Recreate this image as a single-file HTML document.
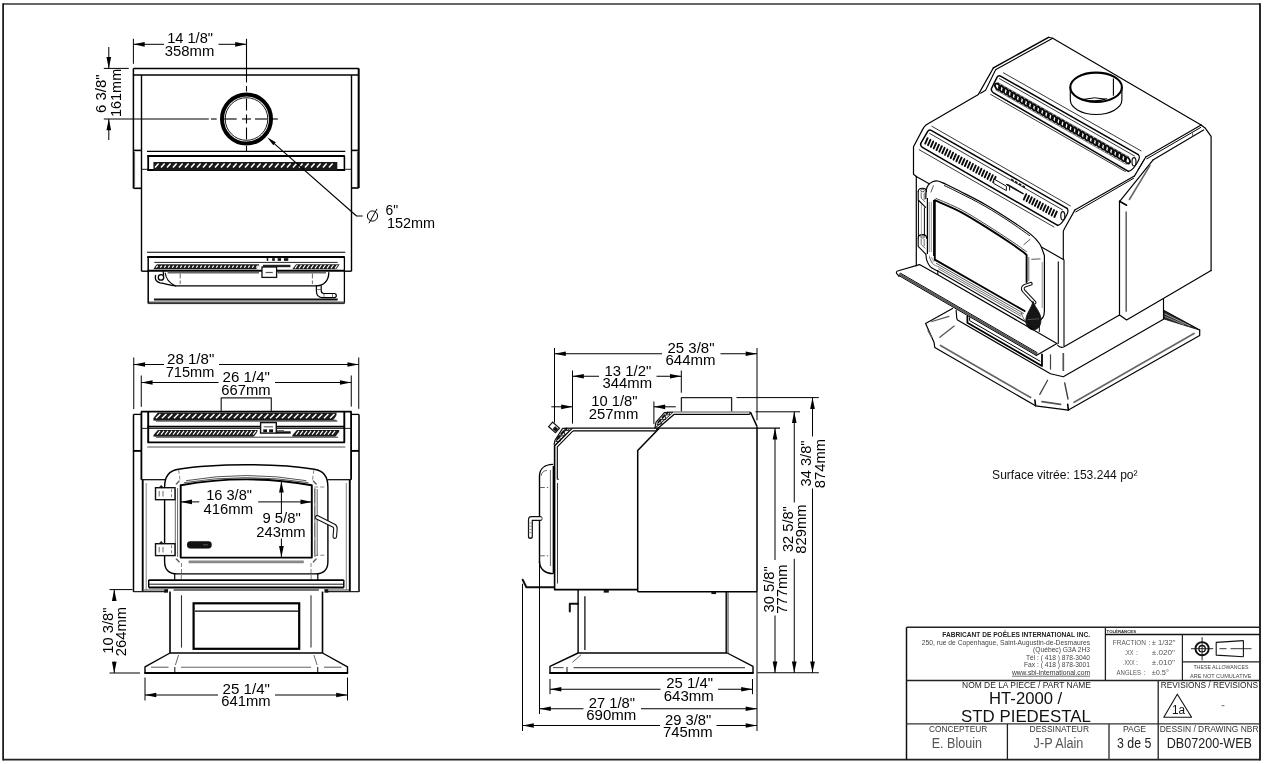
<!DOCTYPE html>
<html><head><meta charset="utf-8"><title>HT-2000 STD PIEDESTAL</title>
<style>
html,body{margin:0;padding:0;background:#fff;}
body{width:1268px;height:764px;overflow:hidden;}
svg{display:block;font-family:"Liberation Sans",sans-serif;will-change:transform;}
</style></head><body>
<svg width="1268" height="764" viewBox="0 0 1268 764">
<rect x="0" y="0" width="1268" height="764" fill="#fff"/>
<g id="border-title">
<line x1="3.1" y1="4" x2="1260" y2="4" stroke="#333" stroke-width="1.7"/>
<line x1="3.1" y1="3.2" x2="3.1" y2="760.5" stroke="#111" stroke-width="1.7"/>
<line x1="1260" y1="3.2" x2="1260" y2="760.5" stroke="#111" stroke-width="1.8"/>
<line x1="3.1" y1="759.7" x2="1260" y2="759.7" stroke="#222" stroke-width="1.7"/>
<line x1="906.5" y1="627.3" x2="1260" y2="627.3" stroke="#222" stroke-width="1.5"/>
<line x1="906.5" y1="627.3" x2="906.5" y2="759.7" stroke="#111" stroke-width="1.5"/>
<line x1="906.5" y1="680.5" x2="1260" y2="680.5" stroke="#222" stroke-width="1.3"/>
<line x1="906.5" y1="723.8" x2="1260" y2="723.8" stroke="#333" stroke-width="1.3"/>
<line x1="1105.4" y1="627.3" x2="1105.4" y2="680.5" stroke="#222" stroke-width="1.3"/>
<line x1="1105.4" y1="634.6" x2="1260" y2="634.6" stroke="#111" stroke-width="1.5"/>
<line x1="1182.4" y1="634.6" x2="1182.4" y2="680.5" stroke="#222" stroke-width="1.2"/>
<line x1="1182.4" y1="661.8" x2="1260" y2="661.8" stroke="#222" stroke-width="1.2"/>
<line x1="1158.2" y1="680.5" x2="1158.2" y2="759.7" stroke="#222" stroke-width="1.3"/>
<line x1="1007.4" y1="723.8" x2="1007.4" y2="759.7" stroke="#222" stroke-width="1.3"/>
<line x1="1109" y1="723.8" x2="1109" y2="759.7" stroke="#444" stroke-width="1.5"/>
<text x="942.3" y="637.2" font-size="6.85" text-anchor="start" fill="#222" textLength="147.7" lengthAdjust="spacingAndGlyphs" font-weight="bold">FABRICANT DE POÊLES INTERNATIONAL INC.</text>
<text x="921.8" y="644.7" font-size="6.75" text-anchor="start" fill="#444" textLength="168.2" lengthAdjust="spacingAndGlyphs">250, rue de Copenhague, Saint-Augustin-de-Desmaures</text>
<text x="1033" y="652.3" font-size="6.75" text-anchor="start" fill="#444" textLength="57" lengthAdjust="spacingAndGlyphs">(Québec) G3A 2H3</text>
<text x="1026" y="659.8" font-size="6.75" text-anchor="start" fill="#444" textLength="64" lengthAdjust="spacingAndGlyphs">Tél : ( 418 ) 878-3040</text>
<text x="1024" y="667.2" font-size="6.75" text-anchor="start" fill="#444" textLength="66" lengthAdjust="spacingAndGlyphs">Fax : ( 418 ) 878-3001</text>
<text x="1011.9" y="674.9" font-size="6.75" text-anchor="start" fill="#333" textLength="78.1" lengthAdjust="spacingAndGlyphs">www.sbi-international.com</text>
<line x1="1011.9" y1="676.2" x2="1090" y2="676.2" stroke="#333" stroke-width="0.7"/>
<text x="1106.6" y="632.8" font-size="4.4" text-anchor="start" fill="#222" textLength="29.4" lengthAdjust="spacingAndGlyphs" font-weight="bold">TOLÉRANCES</text>
<text x="1112.8" y="644.7" font-size="7" text-anchor="start" fill="#555" textLength="33.2" lengthAdjust="spacingAndGlyphs">FRACTION</text>
<text x="1148.6" y="644.7" font-size="7" text-anchor="start" fill="#555">:</text>
<text x="1151.7" y="644.7" font-size="7" text-anchor="start" fill="#555" textLength="23.8" lengthAdjust="spacingAndGlyphs">± 1/32"</text>
<text x="1124.5" y="654.7" font-size="7" text-anchor="start" fill="#555" textLength="9" lengthAdjust="spacingAndGlyphs">.XX</text>
<text x="1136" y="654.7" font-size="7" text-anchor="start" fill="#555">:</text>
<text x="1151.7" y="654.7" font-size="7" text-anchor="start" fill="#555" textLength="23.3" lengthAdjust="spacingAndGlyphs">±.020"</text>
<text x="1123" y="664.8" font-size="7" text-anchor="start" fill="#555" textLength="11.5" lengthAdjust="spacingAndGlyphs">.XXX</text>
<text x="1136" y="664.8" font-size="7" text-anchor="start" fill="#555">:</text>
<text x="1151.7" y="664.8" font-size="7" text-anchor="start" fill="#555" textLength="23.3" lengthAdjust="spacingAndGlyphs">±.010"</text>
<text x="1116.5" y="674.9" font-size="7" text-anchor="start" fill="#555" textLength="24.5" lengthAdjust="spacingAndGlyphs">ANGLES</text>
<text x="1143.6" y="674.9" font-size="7" text-anchor="start" fill="#555">:</text>
<text x="1151.7" y="674.9" font-size="7" text-anchor="start" fill="#555" textLength="17.2" lengthAdjust="spacingAndGlyphs">±0.5°</text>
<circle cx="1202.1" cy="648.7" r="6.6" fill="none" stroke="#111" stroke-width="1.9"/>
<circle cx="1202.1" cy="648.7" r="3.2" fill="none" stroke="#111" stroke-width="1.3"/>
<line x1="1191" y1="648.7" x2="1213.2" y2="648.7" stroke="#111" stroke-width="0.9"/>
<line x1="1202.1" y1="637.2" x2="1202.1" y2="660.4" stroke="#111" stroke-width="0.9"/>
<polyline points="1243.4,640.6 1216.2,642.4 1216.2,655.1 1243.4,656.7" fill="none" stroke="#111" stroke-width="1.1" stroke-linejoin="round"/>
<line x1="1243.4" y1="640.6" x2="1243.4" y2="656.7" stroke="#111" stroke-width="1.1"/>
<line x1="1219.5" y1="648.7" x2="1226.5" y2="648.7" stroke="#222" stroke-width="0.9"/>
<line x1="1230.5" y1="648.7" x2="1251.5" y2="648.7" stroke="#222" stroke-width="0.9"/>
<text x="1193.4" y="669.4" font-size="5.8" text-anchor="start" fill="#444" textLength="55" lengthAdjust="spacingAndGlyphs">THESE ALLOWANCES</text>
<text x="1190" y="677.5" font-size="5.8" text-anchor="start" fill="#444" textLength="61.5" lengthAdjust="spacingAndGlyphs">ARE NOT CUMULATIVE</text>
<text x="962.1" y="688.2" font-size="8.75" text-anchor="start" fill="#222" textLength="128.9" lengthAdjust="spacingAndGlyphs">NOM DE LA PIECE / PART NAME</text>
<text x="989.1" y="703.8" font-size="16.2" text-anchor="start" fill="#111" textLength="73.1" lengthAdjust="spacingAndGlyphs">HT-2000 /</text>
<text x="961.1" y="721.6" font-size="16.2" text-anchor="start" fill="#111" textLength="129.8" lengthAdjust="spacingAndGlyphs">STD PIEDESTAL</text>
<text x="1160.8" y="688.2" font-size="8.75" text-anchor="start" fill="#222" textLength="97.3" lengthAdjust="spacingAndGlyphs">REVISIONS / REVISIONS</text>
<polygon points="1177.3,694.2 1163.8,717.2 1191.6,717.2" fill="none" stroke="#111" stroke-width="1.1" stroke-linejoin="round"/>
<text x="1171.9" y="714.2" font-size="12" text-anchor="start" fill="#111" textLength="13.1" lengthAdjust="spacingAndGlyphs">1a</text>
<line x1="1221.6" y1="705.7" x2="1224.4" y2="705.7" stroke="#666" stroke-width="1"/>
<text x="928.9" y="731.5" font-size="8.75" text-anchor="start" fill="#333" textLength="58.4" lengthAdjust="spacingAndGlyphs">CONCEPTEUR</text>
<text x="1029.6" y="731.5" font-size="8.75" text-anchor="start" fill="#333" textLength="59.4" lengthAdjust="spacingAndGlyphs">DESSINATEUR</text>
<text x="1122.9" y="731.5" font-size="8.75" text-anchor="start" fill="#333" textLength="23.2" lengthAdjust="spacingAndGlyphs">PAGE</text>
<text x="1159.8" y="731.5" font-size="8.75" text-anchor="start" fill="#333" textLength="98.7" lengthAdjust="spacingAndGlyphs">DESSIN / DRAWING NBR</text>
<text x="931.7" y="748" font-size="13.8" text-anchor="start" fill="#555" textLength="50.3" lengthAdjust="spacingAndGlyphs">E. Blouin</text>
<text x="1033.6" y="748" font-size="13.8" text-anchor="start" fill="#555" textLength="49.8" lengthAdjust="spacingAndGlyphs">J-P Alain</text>
<text x="1117" y="748" font-size="13.8" text-anchor="start" fill="#222" textLength="34.3" lengthAdjust="spacingAndGlyphs">3 de 5</text>
<text x="1166.8" y="748" font-size="13.8" text-anchor="start" fill="#222" textLength="85.2" lengthAdjust="spacingAndGlyphs">DB07200-WEB</text>
</g>
<g id="top-view">
<line x1="133.4" y1="68.4" x2="358.7" y2="68.4" stroke="#000" stroke-width="1.5"/>
<line x1="133.4" y1="75" x2="358.7" y2="75" stroke="#000" stroke-width="1.4"/>
<line x1="133.4" y1="68.4" x2="133.4" y2="188.3" stroke="#000" stroke-width="1.5"/>
<line x1="358.7" y1="68.4" x2="358.7" y2="188" stroke="#000" stroke-width="2"/>
<line x1="141.5" y1="75" x2="141.5" y2="271.2" stroke="#000" stroke-width="1.4"/>
<line x1="351.5" y1="75" x2="351.5" y2="271.2" stroke="#000" stroke-width="1.4"/>
<line x1="133.4" y1="150.4" x2="141.5" y2="150.4" stroke="#000" stroke-width="1.6"/>
<line x1="133.4" y1="188.3" x2="141.5" y2="188.3" stroke="#000" stroke-width="1.6"/>
<line x1="351.5" y1="150.4" x2="358.7" y2="150.4" stroke="#000" stroke-width="1.6"/>
<line x1="351.5" y1="188" x2="358.7" y2="188" stroke="#000" stroke-width="1.6"/>
<line x1="134.6" y1="152" x2="134.6" y2="187" stroke="#444" stroke-width="0.8"/>
<line x1="357.4" y1="152" x2="357.4" y2="187" stroke="#444" stroke-width="0.8"/>
<line x1="141.5" y1="271.2" x2="148.2" y2="271.2" stroke="#000" stroke-width="1.4"/>
<line x1="344.4" y1="271.2" x2="351.5" y2="271.2" stroke="#000" stroke-width="1.4"/>
<line x1="147" y1="151.4" x2="345.3" y2="151.4" stroke="#000" stroke-width="1.1"/>
<line x1="147.2" y1="155.9" x2="344.8" y2="155.9" stroke="#000" stroke-width="2"/>
<line x1="148.2" y1="155.9" x2="148.2" y2="170.8" stroke="#000" stroke-width="1.8"/>
<line x1="344.4" y1="155.9" x2="344.4" y2="170.8" stroke="#000" stroke-width="1.6"/>
<line x1="147.4" y1="170" x2="345" y2="170" stroke="#000" stroke-width="1.8"/>
<line x1="141.5" y1="169.3" x2="148.2" y2="169.3" stroke="#000" stroke-width="0.9"/>
<line x1="345.2" y1="169.3" x2="351.5" y2="169.3" stroke="#000" stroke-width="0.9"/>
<rect x="153.4" y="162" width="183.9" height="8.6" fill="#1a1a1a"/>
<path d="M155 167.4L158.6 163.4M161 167.4L164.6 163.4M167 167.4L170.6 163.4M173 167.4L176.6 163.4M179 167.4L182.6 163.4M185 167.4L188.6 163.4M191 167.4L194.6 163.4M197 167.4L200.6 163.4M203 167.4L206.6 163.4M209 167.4L212.6 163.4M215 167.4L218.6 163.4M221 167.4L224.6 163.4M227 167.4L230.6 163.4M233 167.4L236.6 163.4M239 167.4L242.6 163.4M245 167.4L248.6 163.4M251 167.4L254.6 163.4M257 167.4L260.6 163.4M263 167.4L266.6 163.4M269 167.4L272.6 163.4M275 167.4L278.6 163.4M281 167.4L284.6 163.4M287 167.4L290.6 163.4M293 167.4L296.6 163.4M299 167.4L302.6 163.4M305 167.4L308.6 163.4M311 167.4L314.6 163.4M317 167.4L320.6 163.4M323 167.4L326.6 163.4M329 167.4L332.6 163.4" stroke="#fff" stroke-width="1.5" fill="none" stroke-linecap="butt"/>
<circle cx="246.5" cy="119" r="24.5" fill="none" stroke="#000" stroke-width="4"/>
<circle cx="246.5" cy="119" r="21.3" fill="none" stroke="#000" stroke-width="0.9"/>
<line x1="103.8" y1="119" x2="208.8" y2="119" stroke="#000" stroke-width="1.1"/>
<line x1="211" y1="119" x2="216.7" y2="119" stroke="#000" stroke-width="1.1"/>
<line x1="224.2" y1="119" x2="236.7" y2="119" stroke="#000" stroke-width="1.1"/>
<line x1="242" y1="119" x2="251" y2="119" stroke="#000" stroke-width="1.1"/>
<line x1="255" y1="119" x2="267.4" y2="119" stroke="#000" stroke-width="1.1"/>
<line x1="272.3" y1="119" x2="277.9" y2="119" stroke="#000" stroke-width="1.1"/>
<line x1="246.5" y1="38.8" x2="246.5" y2="82.5" stroke="#000" stroke-width="1.1"/>
<line x1="246.5" y1="86" x2="246.5" y2="91.5" stroke="#000" stroke-width="1.1"/>
<line x1="246.5" y1="98.5" x2="246.5" y2="110.5" stroke="#000" stroke-width="1.1"/>
<line x1="246.5" y1="114.5" x2="246.5" y2="123.5" stroke="#000" stroke-width="1.1"/>
<line x1="246.5" y1="127.5" x2="246.5" y2="139.5" stroke="#000" stroke-width="1.1"/>
<line x1="246.5" y1="146" x2="246.5" y2="151" stroke="#000" stroke-width="1.1"/>
<line x1="147" y1="252.3" x2="345.3" y2="252.3" stroke="#000" stroke-width="1.1"/>
<line x1="147.2" y1="257" x2="344.8" y2="257" stroke="#000" stroke-width="2"/>
<line x1="148.2" y1="257" x2="148.2" y2="303.4" stroke="#000" stroke-width="1.5"/>
<line x1="344.4" y1="257" x2="344.4" y2="303.4" stroke="#000" stroke-width="1.3"/>
<line x1="154.3" y1="262.4" x2="337.7" y2="262.4" stroke="#222" stroke-width="1"/>
<rect x="153.4" y="264.3" width="105.8" height="4.9" fill="#1a1a1a"/>
<path d="M156.2 267.6L157.8 265.6M160.2 267.6L161.8 265.6M164.2 267.6L165.8 265.6M168.2 267.6L169.8 265.6M172.2 267.6L173.8 265.6M176.2 267.6L177.8 265.6M180.2 267.6L181.8 265.6M184.2 267.6L185.8 265.6M188.2 267.6L189.8 265.6M192.2 267.6L193.8 265.6M196.2 267.6L197.8 265.6M200.2 267.6L201.8 265.6M204.2 267.6L205.8 265.6M208.2 267.6L209.8 265.6M212.2 267.6L213.8 265.6M216.2 267.6L217.8 265.6M220.2 267.6L221.8 265.6M224.2 267.6L225.8 265.6M228.2 267.6L229.8 265.6M232.2 267.6L233.8 265.6M236.2 267.6L237.8 265.6M240.2 267.6L241.8 265.6M244.2 267.6L245.8 265.6M248.2 267.6L249.8 265.6M252.2 267.6L253.8 265.6M256.2 267.6L257.8 265.6" stroke="#fff" stroke-width="1.3" fill="none" stroke-linecap="butt"/>
<rect x="292.3" y="264.3" width="47.3" height="4.9" fill="#1a1a1a"/>
<path d="M295 268.4L297.4 265M299 268.4L301.4 265M303 268.4L305.4 265M307 268.4L309.4 265M311 268.4L313.4 265M315 268.4L317.4 265M319 268.4L321.4 265M323 268.4L325.4 265M327 268.4L329.4 265M331 268.4L333.4 265M335 268.4L337.4 265" stroke="#fff" stroke-width="1.2" fill="none" stroke-linecap="butt"/>
<polygon points="153,264 156.8,264 153,269.5" fill="#fff" stroke="#fff" stroke-width="0.1" stroke-linejoin="round"/>
<polygon points="259.6,264 259.6,269.5 256,269.5" fill="#fff" stroke="#fff" stroke-width="0.1" stroke-linejoin="round"/>
<polygon points="292,264 296.2,264 292,269.5" fill="#fff" stroke="#fff" stroke-width="0.1" stroke-linejoin="round"/>
<polygon points="340,264 340,269.5 336,269.5" fill="#fff" stroke="#fff" stroke-width="0.1" stroke-linejoin="round"/>
<line x1="263" y1="266" x2="290.4" y2="266" stroke="#222" stroke-width="2.4"/>
<line x1="147.4" y1="270.8" x2="345" y2="270.8" stroke="#000" stroke-width="2"/>
<line x1="167.6" y1="272.6" x2="259" y2="272.6" stroke="#666" stroke-width="1.8"/>
<line x1="277.5" y1="272.6" x2="326" y2="272.6" stroke="#666" stroke-width="1.8"/>
<rect x="266.8" y="258.2" width="1.4" height="2.6" fill="#111" stroke="#111" stroke-width="0.1"/>
<rect x="272.2" y="258.2" width="2.6" height="2.6" fill="#111" stroke="#111" stroke-width="0.1"/>
<rect x="277.8" y="258.2" width="3.2" height="2.6" fill="#111" stroke="#111" stroke-width="0.1"/>
<rect x="284" y="258.2" width="4.2" height="2.6" fill="#111" stroke="#111" stroke-width="0.1"/>
<rect x="262" y="267" width="14.6" height="10.4" fill="#fff" stroke="#111" stroke-width="1.3"/>
<line x1="265.6" y1="272.5" x2="272.8" y2="272.5" stroke="#555" stroke-width="1.2"/>
<circle cx="161" cy="277.4" r="2.7" fill="none" stroke="#000" stroke-width="1.3"/>
<path d="M163.2 271.6 L163.6 275.2" fill="none" stroke="#000" stroke-width="1.2" stroke-linejoin="round" stroke-linecap="round"/>
<path d="M155.6 275.5 C154.6 279.5 156.5 282.0 160.0 282.8 C166.0 283.6 170.0 285.6 175.6 285.9 L317.0 285.9 C323.5 285.6 328.8 281.0 328.8 272.6" fill="none" stroke="#000" stroke-width="1.3" stroke-linejoin="round" stroke-linecap="round"/>
<path d="M165.2 273.0 C166.0 279.5 170.0 283.5 175.6 285.9" fill="none" stroke="#000" stroke-width="1.1" stroke-linejoin="round" stroke-linecap="round"/>
<line x1="180.2" y1="273.5" x2="180.2" y2="284" stroke="#555" stroke-width="0.9" stroke-dasharray="5 2"/>
<line x1="312.4" y1="273.5" x2="312.4" y2="284" stroke="#555" stroke-width="0.9" stroke-dasharray="5 2"/>
<path d="M316.4 285.9 L316.4 291.0 C316.4 295.5 318.5 297.7 323.0 297.7 L334.2 297.7 C337.0 297.7 337.0 293.5 334.2 293.5 L324.0 293.5 C321.8 293.5 321.2 292.6 321.2 290.5 L321.2 285.9" fill="none" stroke="#000" stroke-width="1.2" stroke-linejoin="round" stroke-linecap="round"/>
<line x1="316.8" y1="289.5" x2="321" y2="289.5" stroke="#555" stroke-width="0.8"/>
<line x1="324" y1="293.8" x2="324" y2="297.4" stroke="#555" stroke-width="0.8"/>
<line x1="332.5" y1="293.8" x2="332.5" y2="297.4" stroke="#555" stroke-width="0.8"/>
<line x1="154" y1="299.6" x2="337.7" y2="299.6" stroke="#111" stroke-width="2"/>
<line x1="149" y1="302.4" x2="344.4" y2="302.4" stroke="#555" stroke-width="1.8"/>
<line x1="148.2" y1="303.6" x2="344.4" y2="303.6" stroke="#222" stroke-width="1"/>
<polygon points="267.4,137.5 275.82,142.3 273.32,145.17" fill="#000"/>
<polyline points="270,139.9 356.5,216 362.6,216" fill="none" stroke="#000" stroke-width="1.1" stroke-linejoin="round"/>
<circle cx="372.5" cy="216" r="5.1" fill="none" stroke="#000" stroke-width="1"/>
<line x1="369" y1="223.2" x2="377" y2="208.9" stroke="#000" stroke-width="1"/>
<text x="385.6" y="214.6" font-size="15.3" text-anchor="start" fill="#000" textLength="12.6" lengthAdjust="spacingAndGlyphs">6"</text>
<text x="386.9" y="228.2" font-size="15.3" text-anchor="start" fill="#000" textLength="48.2" lengthAdjust="spacingAndGlyphs">152mm</text>
<line x1="133.4" y1="38.8" x2="133.4" y2="63.8" stroke="#000" stroke-width="1"/>
<line x1="133.4" y1="44.3" x2="164" y2="44.3" stroke="#000" stroke-width="1"/>
<line x1="218.5" y1="44.3" x2="246.5" y2="44.3" stroke="#000" stroke-width="1"/>
<polygon points="133.4,44.3 144.7,41.95 144.7,46.65" fill="#000"/>
<polygon points="246.5,44.3 235.2,46.65 235.2,41.95" fill="#000"/>
<text x="167.2" y="43.2" font-size="15.3" text-anchor="start" fill="#000" textLength="45.8" lengthAdjust="spacingAndGlyphs">14 1/8"</text>
<text x="164.8" y="56.3" font-size="15.3" text-anchor="start" fill="#000" textLength="49.5" lengthAdjust="spacingAndGlyphs">358mm</text>
<line x1="103.8" y1="68.4" x2="128.8" y2="68.4" stroke="#000" stroke-width="1"/>
<line x1="108.8" y1="47" x2="108.8" y2="68.4" stroke="#000" stroke-width="1"/>
<line x1="108.8" y1="119" x2="108.8" y2="140" stroke="#000" stroke-width="1"/>
<polygon points="108.8,68.4 106.45,57.1 111.15,57.1" fill="#000"/>
<polygon points="108.8,119 111.15,130.3 106.45,130.3" fill="#000"/>
<text x="106.4" y="113" font-size="15.3" text-anchor="start" fill="#000" textLength="38.5" lengthAdjust="spacingAndGlyphs" transform="rotate(-90 106.4 113)">6 3/8"</text>
<text x="121.3" y="117" font-size="15.3" text-anchor="start" fill="#000" textLength="48.2" lengthAdjust="spacingAndGlyphs" transform="rotate(-90 121.3 117)">161mm</text>
</g>
<g id="front-view">
<polyline points="221.2,411.5 221.2,397.8 271.3,397.8 271.3,411.5" fill="none" stroke="#222" stroke-width="1.2" stroke-linejoin="round"/>
<line x1="141" y1="411.7" x2="351.7" y2="411.7" stroke="#000" stroke-width="1.8"/>
<line x1="133.5" y1="414.4" x2="133.5" y2="591.9" stroke="#000" stroke-width="1.5"/>
<line x1="133.5" y1="414.4" x2="141.4" y2="414.4" stroke="#000" stroke-width="1.3"/>
<line x1="141.4" y1="411.7" x2="141.4" y2="479.7" stroke="#000" stroke-width="1.8"/>
<line x1="133.5" y1="450.9" x2="141.4" y2="450.9" stroke="#000" stroke-width="1.9"/>
<line x1="141.4" y1="479.7" x2="165" y2="479.7" stroke="#000" stroke-width="1.2"/>
<line x1="142.7" y1="479.7" x2="142.7" y2="591" stroke="#000" stroke-width="1.9"/>
<line x1="146.2" y1="483" x2="146.2" y2="590" stroke="#666" stroke-width="0.8"/>
<line x1="133.5" y1="591.6" x2="166" y2="591.6" stroke="#222" stroke-width="1.4"/>
<line x1="143.5" y1="590" x2="164" y2="590" stroke="#666" stroke-width="1.2"/>
<rect x="164.2" y="589.2" width="3.8" height="3.4" fill="#111" stroke="#111" stroke-width="0.1"/>
<line x1="359" y1="414.4" x2="359" y2="591.9" stroke="#000" stroke-width="1.5"/>
<line x1="359" y1="414.4" x2="351.1" y2="414.4" stroke="#000" stroke-width="1.3"/>
<line x1="351.1" y1="411.7" x2="351.1" y2="479.7" stroke="#000" stroke-width="1.8"/>
<line x1="359" y1="450.9" x2="351.1" y2="450.9" stroke="#000" stroke-width="1.9"/>
<line x1="351.1" y1="479.7" x2="327.5" y2="479.7" stroke="#000" stroke-width="1.2"/>
<line x1="349.8" y1="479.7" x2="349.8" y2="591" stroke="#000" stroke-width="1.9"/>
<line x1="346.3" y1="483" x2="346.3" y2="590" stroke="#666" stroke-width="0.8"/>
<line x1="359" y1="591.6" x2="326.5" y2="591.6" stroke="#222" stroke-width="1.4"/>
<line x1="349" y1="590" x2="328.5" y2="590" stroke="#666" stroke-width="1.2"/>
<rect x="324.5" y="589.2" width="3.8" height="3.4" fill="#111" stroke="#111" stroke-width="0.1"/>
<line x1="148.2" y1="411.7" x2="148.2" y2="442.4" stroke="#000" stroke-width="1.9"/>
<line x1="344.3" y1="411.7" x2="344.3" y2="442.4" stroke="#000" stroke-width="1.9"/>
<line x1="147.4" y1="426.6" x2="345" y2="426.6" stroke="#000" stroke-width="1.8"/>
<line x1="141.4" y1="428.4" x2="351.3" y2="428.4" stroke="#000" stroke-width="0.9"/>
<line x1="147.4" y1="442.4" x2="345" y2="442.4" stroke="#000" stroke-width="1.9"/>
<line x1="147.2" y1="447" x2="345.3" y2="447" stroke="#555" stroke-width="1.1"/>
<rect x="153.4" y="412.6" width="183.1" height="8" fill="#1a1a1a"/>
<path d="M156 418.2L160.4 414M162 418.2L166.4 414M168 418.2L172.4 414M174 418.2L178.4 414M180 418.2L184.4 414M186 418.2L190.4 414M192 418.2L196.4 414M198 418.2L202.4 414M204 418.2L208.4 414M210 418.2L214.4 414M216 418.2L220.4 414M222 418.2L226.4 414M228 418.2L232.4 414M234 418.2L238.4 414M240 418.2L244.4 414M246 418.2L250.4 414M252 418.2L256.4 414M258 418.2L262.4 414M264 418.2L268.4 414M270 418.2L274.4 414M276 418.2L280.4 414M282 418.2L286.4 414M288 418.2L292.4 414M294 418.2L298.4 414M300 418.2L304.4 414M306 418.2L310.4 414M312 418.2L316.4 414M318 418.2L322.4 414M324 418.2L328.4 414M330 418.2L334.4 414" stroke="#fff" stroke-width="1.5" fill="none" stroke-linecap="butt"/>
<polygon points="153,412.8 157.6,412.8 153,418.6" fill="#fff" stroke="#fff" stroke-width="0.1" stroke-linejoin="round"/>
<polygon points="337,415 337,419.7 333.4,419.7" fill="#fff" stroke="#fff" stroke-width="0.1" stroke-linejoin="round"/>
<line x1="156" y1="421.1" x2="337.4" y2="421.1" stroke="#222" stroke-width="0.9"/>
<rect x="153.4" y="430" width="104.2" height="6.6" fill="#1a1a1a"/>
<path d="M157 434.6L160 430.9M161 434.6L164 430.9M165 434.6L168 430.9M169 434.6L172 430.9M173 434.6L176 430.9M177 434.6L180 430.9M181 434.6L184 430.9M185 434.6L188 430.9M189 434.6L192 430.9M193 434.6L196 430.9M197 434.6L200 430.9M201 434.6L204 430.9M205 434.6L208 430.9M209 434.6L212 430.9M213 434.6L216 430.9M217 434.6L220 430.9M221 434.6L224 430.9M225 434.6L228 430.9M229 434.6L232 430.9M233 434.6L236 430.9M237 434.6L240 430.9M241 434.6L244 430.9M245 434.6L248 430.9M249 434.6L252 430.9M253 434.6L256 430.9" stroke="#fff" stroke-width="1.2" fill="none" stroke-linecap="butt"/>
<rect x="292.3" y="430" width="47" height="6.6" fill="#1a1a1a"/>
<path d="M296 434.6L299 430.9M300 434.6L303 430.9M304 434.6L307 430.9M308 434.6L311 430.9M312 434.6L315 430.9M316 434.6L319 430.9M320 434.6L323 430.9M324 434.6L327 430.9M328 434.6L331 430.9M332 434.6L335 430.9" stroke="#fff" stroke-width="1.2" fill="none" stroke-linecap="butt"/>
<polygon points="153,429.8 158,429.8 153,435.6" fill="#fff" stroke="#fff" stroke-width="0.1" stroke-linejoin="round"/>
<polygon points="258,431 258,437 253.6,437" fill="#fff" stroke="#fff" stroke-width="0.1" stroke-linejoin="round"/>
<polygon points="292,429.8 297,429.8 292,435.6" fill="#fff" stroke="#fff" stroke-width="0.1" stroke-linejoin="round"/>
<polygon points="339.7,431 339.7,437 335.3,437" fill="#fff" stroke="#fff" stroke-width="0.1" stroke-linejoin="round"/>
<line x1="156" y1="437.2" x2="338.2" y2="437.2" stroke="#222" stroke-width="0.9"/>
<rect x="260.6" y="422.6" width="15.7" height="10.5" fill="#fff" stroke="#111" stroke-width="1.4"/>
<line x1="263.6" y1="426.8" x2="273" y2="426.8" stroke="#666" stroke-width="1.2"/>
<rect x="263.3" y="429.4" width="3.7" height="2.8" fill="#111" stroke="#111" stroke-width="0.1"/>
<rect x="269.2" y="429.4" width="3.8" height="2.8" fill="#111" stroke="#111" stroke-width="0.1"/>
<line x1="276.3" y1="432.5" x2="290.7" y2="432.5" stroke="#111" stroke-width="2.4"/>
<line x1="276.3" y1="430.6" x2="284" y2="430.6" stroke="#333" stroke-width="0.8"/>
<path d="M164.6 561.5 L164.6 487.0 C164.6 476.5 169.5 470.6 178.2 469.3 C200 465.6 224 464.7 246.25 464.7 C268.5 464.7 292.5 465.6 314.3 469.3 C323.0 470.6 327.9 476.5 327.9 487.0 L327.9 561.5 C327.9 569.5 323.5 573.9 315.3 573.9 L177.2 573.9 C169.0 573.9 164.6 569.5 164.6 561.5 Z" fill="none" stroke="#000" stroke-width="1.4" stroke-linejoin="round" stroke-linecap="round"/>
<path d="M186.5 480.6 Q246.25 470.4 306.0 480.6" fill="none" stroke="#555" stroke-width="1" stroke-linejoin="round" stroke-linecap="round"/>
<path d="M184.5 482.6 Q246.25 472.6 308.0 482.6" fill="none" stroke="#555" stroke-width="1" stroke-linejoin="round" stroke-linecap="round"/>
<path d="M180.7 557.6 L180.7 485.2 Q246.25 473.6 311.8 485.2 L311.8 557.6 Z" fill="none" stroke="#000" stroke-width="1.9" stroke-linejoin="round" stroke-linecap="round"/>
<line x1="175.3" y1="489" x2="175.3" y2="556" stroke="#555" stroke-width="0.9"/>
<line x1="177.6" y1="488" x2="177.6" y2="557" stroke="#555" stroke-width="0.9"/>
<path d="M176.4 484.0 L179.0 481.2" fill="none" stroke="#666" stroke-width="1.6" stroke-linejoin="round" stroke-linecap="round"/>
<path d="M176.4 559.0 L179.0 561.8" fill="none" stroke="#666" stroke-width="1.6" stroke-linejoin="round" stroke-linecap="round"/>
<line x1="178.6" y1="469.8" x2="180" y2="479.5" stroke="#666" stroke-width="0.8" stroke-dasharray="4 2"/>
<line x1="181.5" y1="563" x2="181.5" y2="573" stroke="#666" stroke-width="0.8" stroke-dasharray="4 2"/>
<line x1="181.3" y1="575" x2="181.3" y2="579.5" stroke="#666" stroke-width="0.8"/>
<line x1="317.2" y1="489" x2="317.2" y2="556" stroke="#555" stroke-width="0.9"/>
<line x1="314.9" y1="488" x2="314.9" y2="557" stroke="#555" stroke-width="0.9"/>
<path d="M316.1 484.0 L313.5 481.2" fill="none" stroke="#666" stroke-width="1.6" stroke-linejoin="round" stroke-linecap="round"/>
<path d="M316.1 559.0 L313.5 561.8" fill="none" stroke="#666" stroke-width="1.6" stroke-linejoin="round" stroke-linecap="round"/>
<line x1="313.9" y1="469.8" x2="312.5" y2="479.5" stroke="#666" stroke-width="0.8" stroke-dasharray="4 2"/>
<line x1="311" y1="563" x2="311" y2="573" stroke="#666" stroke-width="0.8" stroke-dasharray="4 2"/>
<line x1="311.2" y1="575" x2="311.2" y2="579.5" stroke="#666" stroke-width="0.8"/>
<line x1="314.3" y1="487" x2="326" y2="487" stroke="#666" stroke-width="0.8" stroke-dasharray="4 2"/>
<line x1="314.3" y1="555.2" x2="326" y2="555.2" stroke="#666" stroke-width="0.8" stroke-dasharray="4 2"/>
<line x1="314.6" y1="489" x2="314.6" y2="555" stroke="#666" stroke-width="0.8" stroke-dasharray="14 3"/>
<line x1="188.6" y1="561.9" x2="303.8" y2="561.9" stroke="#888" stroke-width="2.6"/>
<rect x="155.5" y="487.7" width="19.5" height="12" fill="#fff" stroke="#111" stroke-width="1.4"/>
<line x1="159.2" y1="490.9" x2="159.2" y2="496.5" stroke="#444" stroke-width="0.8"/>
<line x1="163" y1="490.9" x2="163" y2="496.5" stroke="#444" stroke-width="0.8"/>
<line x1="171.5" y1="489.2" x2="171.5" y2="498.2" stroke="#666" stroke-width="0.8" stroke-dasharray="3 2"/>
<polygon points="159,487.7 161.2,485.3 163.4,487.7" fill="#111" stroke="#111" stroke-width="0.5" stroke-linejoin="round"/>
<rect x="155.5" y="543.7" width="19.5" height="11.9" fill="#fff" stroke="#111" stroke-width="1.4"/>
<line x1="159.2" y1="546.9" x2="159.2" y2="552.4" stroke="#444" stroke-width="0.8"/>
<line x1="163" y1="546.9" x2="163" y2="552.4" stroke="#444" stroke-width="0.8"/>
<line x1="171.5" y1="545.2" x2="171.5" y2="554.1" stroke="#666" stroke-width="0.8" stroke-dasharray="3 2"/>
<polygon points="159,543.7 161.2,541.3 163.4,543.7" fill="#111" stroke="#111" stroke-width="0.5" stroke-linejoin="round"/>
<rect x="187" y="541.2" width="24.7" height="7.2" fill="#111" stroke="#111" stroke-width="0.1" rx="3.4"/>
<line x1="203" y1="544.8" x2="208" y2="544.8" stroke="#777" stroke-width="0.7"/>
<path d="M317.2 517.4 L334.0 525.8 Q335.6 526.8 335.4 529.0 L334.8 536.6" fill="none" stroke="#111" stroke-width="4.6" stroke-linejoin="round" stroke-linecap="round"/>
<path d="M317.2 517.4 L334.0 525.8 Q335.6 526.8 335.4 529.0 L334.8 536.6" fill="none" stroke="#fff" stroke-width="2.4" stroke-linejoin="round" stroke-linecap="round"/>
<line x1="148.7" y1="580.1" x2="343.8" y2="580.1" stroke="#000" stroke-width="1.9"/>
<line x1="148.7" y1="580.1" x2="148.7" y2="587.5" stroke="#000" stroke-width="1.4"/>
<line x1="343.8" y1="580.1" x2="343.8" y2="587.5" stroke="#000" stroke-width="1.4"/>
<line x1="148.7" y1="584.2" x2="343.8" y2="584.2" stroke="#000" stroke-width="0.9"/>
<line x1="148.7" y1="587.5" x2="343.8" y2="587.5" stroke="#000" stroke-width="1.8"/>
<line x1="173.6" y1="589.6" x2="318.9" y2="589.6" stroke="#777" stroke-width="2.6"/>
<line x1="174.7" y1="573.9" x2="174.7" y2="580" stroke="#000" stroke-width="1.2"/>
<line x1="317.8" y1="573.9" x2="317.8" y2="580" stroke="#000" stroke-width="1.2"/>
<line x1="170" y1="591.6" x2="170" y2="653" stroke="#000" stroke-width="1.6"/>
<line x1="322.5" y1="591.6" x2="322.5" y2="653" stroke="#000" stroke-width="1.6"/>
<line x1="181.5" y1="595.2" x2="181.5" y2="647.6" stroke="#333" stroke-width="1.1"/>
<line x1="311" y1="595.2" x2="311" y2="647.6" stroke="#333" stroke-width="1.1"/>
<rect x="193.6" y="603.3" width="105.6" height="45.5" fill="none" stroke="#000" stroke-width="2.2"/>
<line x1="195" y1="611.1" x2="298" y2="611.1" stroke="#000" stroke-width="1.1"/>
<polyline points="170,653 145,666.8 145,673 347.5,673 347.5,666.8 322.5,653" fill="none" stroke="#000" stroke-width="1.4" stroke-linejoin="round"/>
<line x1="170" y1="653" x2="322.5" y2="653" stroke="#000" stroke-width="1.5"/>
<line x1="144.4" y1="673" x2="348.1" y2="673" stroke="#000" stroke-width="2"/>
<line x1="151" y1="667.2" x2="168.5" y2="667.2" stroke="#666" stroke-width="1.1"/>
<line x1="181" y1="667.2" x2="311" y2="667.2" stroke="#666" stroke-width="1.1"/>
<line x1="324" y1="667.2" x2="341.5" y2="667.2" stroke="#666" stroke-width="1.1"/>
<line x1="178.6" y1="655" x2="175.4" y2="665" stroke="#555" stroke-width="0.9"/>
<line x1="313.9" y1="655" x2="317.1" y2="665" stroke="#555" stroke-width="0.9"/>
<line x1="174.8" y1="667" x2="174.8" y2="672" stroke="#333" stroke-width="1.2"/>
<line x1="317.7" y1="667" x2="317.7" y2="672" stroke="#333" stroke-width="1.2"/>
<line x1="133.75" y1="357.5" x2="133.75" y2="409.2" stroke="#000" stroke-width="1"/>
<line x1="358.75" y1="357.5" x2="358.75" y2="408.8" stroke="#000" stroke-width="1"/>
<line x1="133.75" y1="364.5" x2="164" y2="364.5" stroke="#000" stroke-width="1"/>
<line x1="219" y1="364.5" x2="358.75" y2="364.5" stroke="#000" stroke-width="1"/>
<polygon points="133.75,364.5 145.05,362.15 145.05,366.85" fill="#000"/>
<polygon points="358.75,364.5 347.45,366.85 347.45,362.15" fill="#000"/>
<text x="167" y="363.6" font-size="15.3" text-anchor="start" fill="#000" textLength="47.25" lengthAdjust="spacingAndGlyphs">28 1/8"</text>
<text x="165.75" y="376.8" font-size="15.3" text-anchor="start" fill="#000" textLength="48.5" lengthAdjust="spacingAndGlyphs">715mm</text>
<line x1="141.25" y1="375.5" x2="141.25" y2="406.8" stroke="#000" stroke-width="1"/>
<line x1="351.25" y1="375.5" x2="351.25" y2="406.6" stroke="#000" stroke-width="1"/>
<line x1="141.25" y1="382.5" x2="218.5" y2="382.5" stroke="#000" stroke-width="1"/>
<line x1="275" y1="382.5" x2="351.25" y2="382.5" stroke="#000" stroke-width="1"/>
<polygon points="141.25,382.5 152.55,380.15 152.55,384.85" fill="#000"/>
<polygon points="351.25,382.5 339.95,384.85 339.95,380.15" fill="#000"/>
<text x="222.5" y="381.6" font-size="15.3" text-anchor="start" fill="#000" textLength="47.5" lengthAdjust="spacingAndGlyphs">26 1/4"</text>
<text x="221.25" y="394.6" font-size="15.3" text-anchor="start" fill="#000" textLength="49.25" lengthAdjust="spacingAndGlyphs">667mm</text>
<line x1="180.7" y1="501.9" x2="199.3" y2="501.9" stroke="#000" stroke-width="1"/>
<line x1="258.2" y1="501.9" x2="311.8" y2="501.9" stroke="#000" stroke-width="1"/>
<polygon points="180.7,501.9 192,499.55 192,504.25" fill="#000"/>
<polygon points="311.8,501.9 300.5,504.25 300.5,499.55" fill="#000"/>
<text x="206.2" y="500.4" font-size="15.3" text-anchor="start" fill="#000" textLength="45.8" lengthAdjust="spacingAndGlyphs">16 3/8"</text>
<text x="203.6" y="513.5" font-size="15.3" text-anchor="start" fill="#000" textLength="49.5" lengthAdjust="spacingAndGlyphs">416mm</text>
<line x1="281.4" y1="481.3" x2="281.4" y2="513.6" stroke="#000" stroke-width="1"/>
<line x1="281.4" y1="538.6" x2="281.4" y2="557.3" stroke="#000" stroke-width="1"/>
<polygon points="281.4,481.1 283.75,492.4 279.05,492.4" fill="#000"/>
<polygon points="281.4,557.3 279.05,546 283.75,546" fill="#000"/>
<text x="262.4" y="523.4" font-size="15.3" text-anchor="start" fill="#000" textLength="38.3" lengthAdjust="spacingAndGlyphs">9 5/8"</text>
<text x="256.3" y="536.8" font-size="15.3" text-anchor="start" fill="#000" textLength="49.2" lengthAdjust="spacingAndGlyphs">243mm</text>
<line x1="109.5" y1="589.6" x2="132.5" y2="589.6" stroke="#000" stroke-width="1"/>
<line x1="109.5" y1="673" x2="140" y2="673" stroke="#000" stroke-width="1"/>
<line x1="114.25" y1="589.6" x2="114.25" y2="601" stroke="#000" stroke-width="1"/>
<line x1="114.25" y1="661.5" x2="114.25" y2="673" stroke="#000" stroke-width="1"/>
<polygon points="114.25,589.6 116.6,600.9 111.9,600.9" fill="#000"/>
<polygon points="114.25,673 111.9,661.7 116.6,661.7" fill="#000"/>
<text x="113.2" y="653.75" font-size="15.3" text-anchor="start" fill="#000" textLength="46.25" lengthAdjust="spacingAndGlyphs" transform="rotate(-90 113.2 653.75)">10 3/8"</text>
<text x="126.4" y="656.25" font-size="15.3" text-anchor="start" fill="#000" textLength="49.25" lengthAdjust="spacingAndGlyphs" transform="rotate(-90 126.4 656.25)">264mm</text>
<line x1="145" y1="677.5" x2="145" y2="700.5" stroke="#000" stroke-width="1"/>
<line x1="347.5" y1="677.5" x2="347.5" y2="700.5" stroke="#000" stroke-width="1"/>
<line x1="145" y1="695" x2="218" y2="695" stroke="#000" stroke-width="1"/>
<line x1="275" y1="695" x2="347.5" y2="695" stroke="#000" stroke-width="1"/>
<polygon points="145,695 156.3,692.65 156.3,697.35" fill="#000"/>
<polygon points="347.5,695 336.2,697.35 336.2,692.65" fill="#000"/>
<text x="222.5" y="693.8" font-size="15.3" text-anchor="start" fill="#000" textLength="47.5" lengthAdjust="spacingAndGlyphs">25 1/4"</text>
<text x="221.25" y="706.4" font-size="15.3" text-anchor="start" fill="#000" textLength="49.25" lengthAdjust="spacingAndGlyphs">641mm</text>
</g>
<g id="side-view">
<polyline points="681.4,411.6 681.4,397.7 731.6,397.7 731.6,411.6" fill="none" stroke="#222" stroke-width="1.3" stroke-linejoin="round"/>
<line x1="673.1" y1="412" x2="750.4" y2="412" stroke="#555" stroke-width="1"/>
<polyline points="656.2,429.8 674.2,414.3 749.8,414.3" fill="none" stroke="#000" stroke-width="1.3" stroke-linejoin="round"/>
<polyline points="750.4,412 757,426.4" fill="none" stroke="#000" stroke-width="1.5" stroke-linejoin="round"/>
<polyline points="749.8,414.3 750.4,412" fill="none" stroke="#000" stroke-width="1.2" stroke-linejoin="round"/>
<polyline points="654.6,428.2 672.6,412.2" fill="none" stroke="#000" stroke-width="1.2" stroke-linejoin="round"/>
<line x1="571.9" y1="428.1" x2="780" y2="428.1" stroke="#000" stroke-width="1.3"/>
<line x1="573" y1="430.8" x2="656" y2="430.8" stroke="#000" stroke-width="1.2"/>
<polyline points="571.9,428.1 554.6,445.8 554.6,589.6" fill="none" stroke="#000" stroke-width="1.6" stroke-linejoin="round"/>
<polyline points="573,430.8 557.3,446.9 557.3,479.3" fill="none" stroke="#000" stroke-width="1.1" stroke-linejoin="round"/>
<line x1="557.3" y1="479.3" x2="558.8" y2="479.3" stroke="#000" stroke-width="1.1"/>
<line x1="557.5" y1="483" x2="557.5" y2="583.5" stroke="#222" stroke-width="0.9"/>
<line x1="553.4" y1="466" x2="553.4" y2="573.6" stroke="#000" stroke-width="1.5"/>
<polyline points="659,428.4 637.7,450.4 637.7,591.8" fill="none" stroke="#000" stroke-width="1.5" stroke-linejoin="round"/>
<line x1="637.7" y1="591.8" x2="757" y2="591.8" stroke="#000" stroke-width="1.5"/>
<line x1="757" y1="426.4" x2="757" y2="591.8" stroke="#000" stroke-width="1.5"/>
<line x1="554" y1="589.6" x2="637.7" y2="589.6" stroke="#000" stroke-width="1.6"/>
<rect x="603.8" y="590" width="5" height="2.6" fill="#111" stroke="#111" stroke-width="0.1"/>
<rect x="711.5" y="592" width="4.5" height="2" fill="#111" stroke="#111" stroke-width="0.1"/>
<polyline points="554,444.8 555,440.2 562.6,428.4 571.4,428.2" fill="#fff" stroke="#111" stroke-width="1.2" stroke-linejoin="round"/>
<path d="M556.2 441.6 L560.6 441.0 L559.6 436.6 Z M560.6 436.2 L565.0 435.4 L564.0 431.4 Z M565.0 430.8 L569.4 430.2 L568.0 428.6" fill="none" stroke="#111" stroke-width="0.9" stroke-linejoin="round" stroke-linecap="round"/>
<path d="M557.2 439.0 L559.4 436.2 M561.4 434.0 L563.8 431.2 M565.4 429.6 L566.6 428.6" fill="none" stroke="#111" stroke-width="2.2" stroke-linejoin="round" stroke-linecap="round"/>
<g transform="rotate(42 554.2 427.6)">
<rect x="549.4" y="424.6" width="9.2" height="6" fill="#fff" stroke="#111" stroke-width="1.2"/>
<rect x="554" y="426" width="4" height="3.6" fill="#111" stroke="#111" stroke-width="0.1"/>
</g>
<polyline points="655,427.6 656,422.2 664.4,412.7 673,412.1" fill="#fff" stroke="#111" stroke-width="1.2" stroke-linejoin="round"/>
<path d="M657.4 424.6 L661.6 424.0 L660.4 420.2 Z M661.8 419.8 L666.0 419.2 L664.8 415.6 Z M666.2 415.0 L670.2 414.6 L669.0 412.6" fill="none" stroke="#111" stroke-width="0.9" stroke-linejoin="round" stroke-linecap="round"/>
<path d="M658.4 422.2 L660.4 419.8 M662.6 417.6 L664.8 415.2 M666.6 413.6 L667.8 412.6" fill="none" stroke="#111" stroke-width="2" stroke-linejoin="round" stroke-linecap="round"/>
<path d="M539.5 563.0 L539.5 475.6 C539.8 468.6 545.0 464.6 552.6 464.4" fill="none" stroke="#000" stroke-width="1.4" stroke-linejoin="round" stroke-linecap="round"/>
<path d="M539.5 562.0 C539.8 569.0 545.0 573.4 552.8 573.6" fill="none" stroke="#000" stroke-width="1.4" stroke-linejoin="round" stroke-linecap="round"/>
<path d="M541.2 475.4 C541.6 472.4 543.6 470.8 546.6 470.4" fill="none" stroke="#555" stroke-width="0.9" stroke-linejoin="round" stroke-linecap="round"/>
<line x1="550.4" y1="470" x2="550.4" y2="566" stroke="#555" stroke-width="0.9"/>
<line x1="539.8" y1="487.5" x2="548.2" y2="487.5" stroke="#555" stroke-width="0.9" stroke-dasharray="5 2"/>
<line x1="539.8" y1="555.8" x2="548.2" y2="555.8" stroke="#555" stroke-width="0.9" stroke-dasharray="5 2"/>
<path d="M540.0 518.5 L531.2 518.5 Q530.4 518.5 530.4 520.0 L530.4 536.6" fill="none" stroke="#111" stroke-width="5" stroke-linejoin="round" stroke-linecap="round"/>
<path d="M540.6 518.5 L531.2 518.5 Q530.4 518.5 530.4 520.0 L530.4 536.2" fill="none" stroke="#fff" stroke-width="2.6" stroke-linejoin="round" stroke-linecap="round"/>
<line x1="528.6" y1="523" x2="532.2" y2="523" stroke="#777" stroke-width="0.7"/>
<line x1="528.6" y1="526.2" x2="532.2" y2="526.2" stroke="#777" stroke-width="0.7"/>
<line x1="528.6" y1="529.4" x2="532.2" y2="529.4" stroke="#777" stroke-width="0.7"/>
<line x1="528.6" y1="532.6" x2="532.2" y2="532.6" stroke="#777" stroke-width="0.7"/>
<path d="M522.7 579.7 L526.4 587.2 L554.0 587.2" fill="none" stroke="#111" stroke-width="2" stroke-linejoin="round" stroke-linecap="round"/>
<line x1="578.1" y1="589.6" x2="578.1" y2="653" stroke="#000" stroke-width="1.4"/>
<line x1="584.9" y1="596.2" x2="584.9" y2="650" stroke="#000" stroke-width="1.2"/>
<line x1="726.2" y1="591.8" x2="726.2" y2="653" stroke="#000" stroke-width="1.4"/>
<line x1="728" y1="591.8" x2="728" y2="653" stroke="#333" stroke-width="1"/>
<path d="M578.1 603.8 L569.8 603.8 L569.8 611.5" fill="none" stroke="#111" stroke-width="2" stroke-linejoin="round" stroke-linecap="round"/>
<polyline points="578.1,653 550,666.4 550,673 753,673 753,666.4 727.2,653" fill="none" stroke="#000" stroke-width="1.4" stroke-linejoin="round"/>
<line x1="578.1" y1="653" x2="727.2" y2="653" stroke="#000" stroke-width="1.5"/>
<line x1="549.4" y1="673" x2="753.6" y2="673" stroke="#000" stroke-width="2"/>
<line x1="553" y1="667.6" x2="563.5" y2="667.6" stroke="#555" stroke-width="1.1"/>
<line x1="573.5" y1="667.6" x2="745" y2="667.6" stroke="#555" stroke-width="1.3"/>
<line x1="581.2" y1="654.6" x2="572.4" y2="662.4" stroke="#555" stroke-width="0.9"/>
<line x1="567" y1="667" x2="567" y2="672" stroke="#333" stroke-width="1.2"/>
<line x1="554.5" y1="348" x2="554.5" y2="422.6" stroke="#000" stroke-width="1"/>
<line x1="757" y1="348" x2="757" y2="420.3" stroke="#000" stroke-width="1"/>
<line x1="554.5" y1="353.75" x2="662" y2="353.75" stroke="#000" stroke-width="1"/>
<line x1="720.5" y1="353.75" x2="757" y2="353.75" stroke="#000" stroke-width="1"/>
<polygon points="554.5,353.75 565.8,351.4 565.8,356.1" fill="#000"/>
<polygon points="757,353.75 745.7,356.1 745.7,351.4" fill="#000"/>
<text x="667.5" y="352.6" font-size="15.3" text-anchor="start" fill="#000" textLength="47" lengthAdjust="spacingAndGlyphs">25 3/8"</text>
<text x="665.5" y="365.2" font-size="15.3" text-anchor="start" fill="#000" textLength="50" lengthAdjust="spacingAndGlyphs">644mm</text>
<line x1="572.5" y1="370.5" x2="572.5" y2="423.6" stroke="#000" stroke-width="1"/>
<line x1="681.3" y1="370.5" x2="681.3" y2="392.7" stroke="#000" stroke-width="1"/>
<line x1="572.5" y1="376.25" x2="599" y2="376.25" stroke="#000" stroke-width="1"/>
<line x1="656.5" y1="376.25" x2="681.3" y2="376.25" stroke="#000" stroke-width="1"/>
<polygon points="572.5,376.25 583.8,373.9 583.8,378.6" fill="#000"/>
<polygon points="681.3,376.25 670,378.6 670,373.9" fill="#000"/>
<text x="604.5" y="375.6" font-size="15.3" text-anchor="start" fill="#000" textLength="46.75" lengthAdjust="spacingAndGlyphs">13 1/2"</text>
<text x="602.5" y="388.2" font-size="15.3" text-anchor="start" fill="#000" textLength="49.5" lengthAdjust="spacingAndGlyphs">344mm</text>
<line x1="551.3" y1="406.8" x2="572.5" y2="406.8" stroke="#000" stroke-width="1"/>
<polygon points="572.5,406.8 561.2,409.15 561.2,404.45" fill="#000"/>
<line x1="653.9" y1="401.5" x2="653.9" y2="424.2" stroke="#000" stroke-width="1"/>
<line x1="653.9" y1="406.8" x2="675.8" y2="406.8" stroke="#000" stroke-width="1"/>
<polygon points="653.9,406.8 665.2,404.45 665.2,409.15" fill="#000"/>
<text x="591.25" y="405.6" font-size="15.3" text-anchor="start" fill="#000" textLength="46.25" lengthAdjust="spacingAndGlyphs">10 1/8"</text>
<text x="588.75" y="418.8" font-size="15.3" text-anchor="start" fill="#000" textLength="49.5" lengthAdjust="spacingAndGlyphs">257mm</text>
<line x1="736.5" y1="397.6" x2="818.8" y2="397.6" stroke="#000" stroke-width="1"/>
<line x1="755.5" y1="411.8" x2="800" y2="411.8" stroke="#000" stroke-width="1"/>
<line x1="757.5" y1="672.8" x2="818.8" y2="672.8" stroke="#000" stroke-width="1.1"/>
<line x1="812.5" y1="397.6" x2="812.5" y2="436.5" stroke="#000" stroke-width="1"/>
<line x1="812.5" y1="488.5" x2="812.5" y2="672.8" stroke="#000" stroke-width="1"/>
<polygon points="812.5,397.6 814.85,408.9 810.15,408.9" fill="#000"/>
<polygon points="812.5,672.8 810.15,661.5 814.85,661.5" fill="#000"/>
<text x="811.4" y="486.4" font-size="15.3" text-anchor="start" fill="#000" textLength="45.9" lengthAdjust="spacingAndGlyphs" transform="rotate(-90 811.4 486.4)">34 3/8"</text>
<text x="824.6" y="488.2" font-size="15.3" text-anchor="start" fill="#000" textLength="49.4" lengthAdjust="spacingAndGlyphs" transform="rotate(-90 824.6 488.2)">874mm</text>
<line x1="794.25" y1="411.8" x2="794.25" y2="502.5" stroke="#000" stroke-width="1"/>
<line x1="794.25" y1="558.8" x2="794.25" y2="672.8" stroke="#000" stroke-width="1"/>
<polygon points="794.25,411.8 796.6,423.1 791.9,423.1" fill="#000"/>
<polygon points="794.25,672.8 791.9,661.5 796.6,661.5" fill="#000"/>
<text x="793.2" y="552" font-size="15.3" text-anchor="start" fill="#000" textLength="45.75" lengthAdjust="spacingAndGlyphs" transform="rotate(-90 793.2 552)">32 5/8"</text>
<text x="806.4" y="553.75" font-size="15.3" text-anchor="start" fill="#000" textLength="49.25" lengthAdjust="spacingAndGlyphs" transform="rotate(-90 806.4 553.75)">829mm</text>
<line x1="775" y1="428.1" x2="775" y2="560" stroke="#000" stroke-width="1"/>
<line x1="775" y1="615.5" x2="775" y2="672.8" stroke="#000" stroke-width="1"/>
<polygon points="775,428.1 777.35,439.4 772.65,439.4" fill="#000"/>
<polygon points="775,672.8 772.65,661.5 777.35,661.5" fill="#000"/>
<text x="773.6" y="612.5" font-size="15.3" text-anchor="start" fill="#000" textLength="46.25" lengthAdjust="spacingAndGlyphs" transform="rotate(-90 773.6 612.5)">30 5/8"</text>
<text x="787.2" y="613.75" font-size="15.3" text-anchor="start" fill="#000" textLength="49.25" lengthAdjust="spacingAndGlyphs" transform="rotate(-90 787.2 613.75)">777mm</text>
<line x1="550" y1="679" x2="550" y2="694.2" stroke="#000" stroke-width="1"/>
<line x1="752.5" y1="679" x2="752.5" y2="694.2" stroke="#000" stroke-width="1"/>
<line x1="550" y1="689.25" x2="660.5" y2="689.25" stroke="#000" stroke-width="1"/>
<line x1="718" y1="689.25" x2="752.5" y2="689.25" stroke="#000" stroke-width="1"/>
<polygon points="550,689.25 561.3,686.9 561.3,691.6" fill="#000"/>
<polygon points="752.5,689.25 741.2,691.6 741.2,686.9" fill="#000"/>
<text x="666.25" y="688" font-size="15.3" text-anchor="start" fill="#000" textLength="46.75" lengthAdjust="spacingAndGlyphs">25 1/4"</text>
<text x="663.75" y="700.6" font-size="15.3" text-anchor="start" fill="#000" textLength="50" lengthAdjust="spacingAndGlyphs">643mm</text>
<line x1="539.5" y1="563" x2="539.5" y2="714" stroke="#000" stroke-width="1"/>
<line x1="757" y1="591.8" x2="757" y2="731" stroke="#000" stroke-width="1"/>
<line x1="539.5" y1="708.75" x2="583.5" y2="708.75" stroke="#000" stroke-width="1"/>
<line x1="641" y1="708.75" x2="757" y2="708.75" stroke="#000" stroke-width="1"/>
<polygon points="539.5,708.75 550.8,706.4 550.8,711.1" fill="#000"/>
<polygon points="757,708.75 745.7,711.1 745.7,706.4" fill="#000"/>
<text x="588.75" y="708" font-size="15.3" text-anchor="start" fill="#000" textLength="46.25" lengthAdjust="spacingAndGlyphs">27 1/8"</text>
<text x="586.25" y="720.2" font-size="15.3" text-anchor="start" fill="#000" textLength="50" lengthAdjust="spacingAndGlyphs">690mm</text>
<line x1="522.5" y1="583.8" x2="522.5" y2="731" stroke="#000" stroke-width="1"/>
<line x1="522.5" y1="725.5" x2="660" y2="725.5" stroke="#000" stroke-width="1"/>
<line x1="716.5" y1="725.5" x2="757" y2="725.5" stroke="#000" stroke-width="1"/>
<polygon points="522.5,725.5 533.8,723.15 533.8,727.85" fill="#000"/>
<polygon points="757,725.5 745.7,727.85 745.7,723.15" fill="#000"/>
<text x="665" y="724.8" font-size="15.3" text-anchor="start" fill="#000" textLength="46.25" lengthAdjust="spacingAndGlyphs">29 3/8"</text>
<text x="663" y="737.4" font-size="15.3" text-anchor="start" fill="#000" textLength="49.5" lengthAdjust="spacingAndGlyphs">745mm</text>
</g>
<g id="iso-view">
<path d="M1048.5 37.3 L993.4 67.9" fill="none" stroke="#000" stroke-width="1.5" stroke-linejoin="round" stroke-linecap="round"/>
<path d="M1052.7 38.3 L995.9 69.4" fill="none" stroke="#000" stroke-width="1.1" stroke-linejoin="round" stroke-linecap="round"/>
<path d="M1048.5 37.3 L1052.7 38.3" fill="none" stroke="#000" stroke-width="1.1" stroke-linejoin="round" stroke-linecap="round"/>
<path d="M1052.7 38.3 L1201.1 125" fill="none" stroke="#000" stroke-width="1.15" stroke-linejoin="round" stroke-linecap="round"/>
<path d="M993.4 67.9 L978.4 94.4" fill="none" stroke="#000" stroke-width="1.15" stroke-linejoin="round" stroke-linecap="round"/>
<path d="M995.5 69.9 L985.6 90.2 L980.6 93.2" fill="none" stroke="#000" stroke-width="1.1" stroke-linejoin="round" stroke-linecap="round"/>
<path d="M978.4 94.4 L926.3 124.8 C924.0 126.4 923.2 128.4 922.0 130.6 L913.5 146.8 L913.5 174.3 L916.3 176.4" fill="none" stroke="#000" stroke-width="1.2" stroke-linejoin="round" stroke-linecap="round"/>
<path d="M1201.1 125 L1205.4 128.3 L1211.1 136.3 L1211.1 270.6" fill="none" stroke="#000" stroke-width="1.2" stroke-linejoin="round" stroke-linecap="round"/>
<path d="M1201.1 125 L1145.8 157" fill="none" stroke="#000" stroke-width="1.15" stroke-linejoin="round" stroke-linecap="round"/>
<path d="M1200.8 127.4 L1146.8 158.8" fill="none" stroke="#000" stroke-width="1" stroke-linejoin="round" stroke-linecap="round"/>
<path d="M1203.6 130 L1152.9 159.9" fill="none" stroke="#000" stroke-width="1.2" stroke-linejoin="round" stroke-linecap="round"/>
<line x1="1192.6" y1="132.2" x2="1192.6" y2="136.4" stroke="#555" stroke-width="0.9"/>
<path d="M1145.8 157 L1134.4 176.1" fill="none" stroke="#000" stroke-width="1.15" stroke-linejoin="round" stroke-linecap="round"/>
<path d="M1144.4 159.2 L1138.2 169.6" fill="none" stroke="#000" stroke-width="1" stroke-linejoin="round" stroke-linecap="round"/>
<path d="M1134.4 176.1 L1074.8 210.1" fill="none" stroke="#000" stroke-width="1.15" stroke-linejoin="round" stroke-linecap="round"/>
<path d="M1133.6 178.3 L1075.8 211.9" fill="none" stroke="#000" stroke-width="1" stroke-linejoin="round" stroke-linecap="round"/>
<path d="M1074.8 210.1 L1064.8 228 L1063.3 231 L1063.3 259.4" fill="none" stroke="#000" stroke-width="1.15" stroke-linejoin="round" stroke-linecap="round"/>
<path d="M1152.9 160.2 L1119.5 201.6 L1119.5 315 L1121 316 L1126.6 320 L1211.1 270.6" fill="none" stroke="#000" stroke-width="1.2" stroke-linejoin="round" stroke-linecap="round"/>
<path d="M1119.5 201.2 L1126.6 205.2" fill="none" stroke="#000" stroke-width="1.6" stroke-linejoin="round" stroke-linecap="round"/>
<path d="M1150 165.4 L1129.4 199.5" fill="none" stroke="#666" stroke-width="1.6" stroke-linejoin="round" stroke-linecap="round"/>
<line x1="1126.2" y1="211.6" x2="1126.2" y2="311.8" stroke="#666" stroke-width="1.6"/>
<path d="M916.3 176.4 L1063.3 259.4" fill="none" stroke="#000" stroke-width="1.15" stroke-linejoin="round" stroke-linecap="round"/>
<line x1="916.3" y1="176.4" x2="916.3" y2="266.3" stroke="#000" stroke-width="1.2"/>
<path d="M1138.3 154.6 L1001 76.33 Q998.5 74.9 997.12 77.15 L991.6 88.25 Q990.6 90.5 993.1 92.53 L1128.4 171.4" fill="none" stroke="#000" stroke-width="1.5" stroke-linejoin="round" stroke-linecap="round"/>
<path d="M1003.4 72.8 L1141.1 150.9" fill="none" stroke="#222" stroke-width="0.9" stroke-linejoin="round" stroke-linecap="round"/>
<path d="M990.6 94.4 L1125.4 171.6" fill="none" stroke="#222" stroke-width="0.9" stroke-linejoin="round" stroke-linecap="round"/>
<path d="M999.4 78.6 L1134.5 156" fill="none" stroke="#222" stroke-width="0.9" stroke-linejoin="round" stroke-linecap="round"/>
<path d="M1138.3 154.6 C1140.6 156.6 1139.4 159.0 1137.6 162.0 C1135.4 166.0 1132.6 170.8 1128.4 171.4" fill="none" stroke="#000" stroke-width="1.2" stroke-linejoin="round" stroke-linecap="round"/>
<ellipse cx="1134" cy="161.8" rx="2" ry="4.2" fill="none" stroke="#111" stroke-width="1.2"/>
<g transform="rotate(30 1134 161.8)"></g>
<ellipse cx="997.6" cy="86.6" rx="2.2" ry="3.3" transform="rotate(-32 997.6 86.6)" fill="none" stroke="#0a0a0a" stroke-width="1.85"/>
<ellipse cx="1001.66" cy="88.9" rx="2.2" ry="3.3" transform="rotate(-32 1001.66 88.9)" fill="none" stroke="#0a0a0a" stroke-width="1.85"/>
<ellipse cx="1005.71" cy="91.21" rx="2.2" ry="3.3" transform="rotate(-32 1005.71 91.21)" fill="none" stroke="#0a0a0a" stroke-width="1.85"/>
<ellipse cx="1009.77" cy="93.51" rx="2.2" ry="3.3" transform="rotate(-32 1009.77 93.51)" fill="none" stroke="#0a0a0a" stroke-width="1.85"/>
<ellipse cx="1013.83" cy="95.81" rx="2.2" ry="3.3" transform="rotate(-32 1013.83 95.81)" fill="none" stroke="#0a0a0a" stroke-width="1.85"/>
<ellipse cx="1017.88" cy="98.12" rx="2.2" ry="3.3" transform="rotate(-32 1017.88 98.12)" fill="none" stroke="#0a0a0a" stroke-width="1.85"/>
<ellipse cx="1021.94" cy="100.42" rx="2.2" ry="3.3" transform="rotate(-32 1021.94 100.42)" fill="none" stroke="#0a0a0a" stroke-width="1.85"/>
<ellipse cx="1025.99" cy="102.72" rx="2.2" ry="3.3" transform="rotate(-32 1025.99 102.72)" fill="none" stroke="#0a0a0a" stroke-width="1.85"/>
<ellipse cx="1030.05" cy="105.03" rx="2.2" ry="3.3" transform="rotate(-32 1030.05 105.03)" fill="none" stroke="#0a0a0a" stroke-width="1.85"/>
<ellipse cx="1034.11" cy="107.33" rx="2.2" ry="3.3" transform="rotate(-32 1034.11 107.33)" fill="none" stroke="#0a0a0a" stroke-width="1.85"/>
<ellipse cx="1038.16" cy="109.63" rx="2.2" ry="3.3" transform="rotate(-32 1038.16 109.63)" fill="none" stroke="#0a0a0a" stroke-width="1.85"/>
<ellipse cx="1042.22" cy="111.93" rx="2.2" ry="3.3" transform="rotate(-32 1042.22 111.93)" fill="none" stroke="#0a0a0a" stroke-width="1.85"/>
<ellipse cx="1046.28" cy="114.24" rx="2.2" ry="3.3" transform="rotate(-32 1046.28 114.24)" fill="none" stroke="#0a0a0a" stroke-width="1.85"/>
<ellipse cx="1050.33" cy="116.54" rx="2.2" ry="3.3" transform="rotate(-32 1050.33 116.54)" fill="none" stroke="#0a0a0a" stroke-width="1.85"/>
<ellipse cx="1054.39" cy="118.84" rx="2.2" ry="3.3" transform="rotate(-32 1054.39 118.84)" fill="none" stroke="#0a0a0a" stroke-width="1.85"/>
<ellipse cx="1058.44" cy="121.15" rx="2.2" ry="3.3" transform="rotate(-32 1058.44 121.15)" fill="none" stroke="#0a0a0a" stroke-width="1.85"/>
<ellipse cx="1062.5" cy="123.45" rx="2.2" ry="3.3" transform="rotate(-32 1062.5 123.45)" fill="none" stroke="#0a0a0a" stroke-width="1.85"/>
<ellipse cx="1066.56" cy="125.75" rx="2.2" ry="3.3" transform="rotate(-32 1066.56 125.75)" fill="none" stroke="#0a0a0a" stroke-width="1.85"/>
<ellipse cx="1070.61" cy="128.06" rx="2.2" ry="3.3" transform="rotate(-32 1070.61 128.06)" fill="none" stroke="#0a0a0a" stroke-width="1.85"/>
<ellipse cx="1074.67" cy="130.36" rx="2.2" ry="3.3" transform="rotate(-32 1074.67 130.36)" fill="none" stroke="#0a0a0a" stroke-width="1.85"/>
<ellipse cx="1078.73" cy="132.66" rx="2.2" ry="3.3" transform="rotate(-32 1078.73 132.66)" fill="none" stroke="#0a0a0a" stroke-width="1.85"/>
<ellipse cx="1082.78" cy="134.97" rx="2.2" ry="3.3" transform="rotate(-32 1082.78 134.97)" fill="none" stroke="#0a0a0a" stroke-width="1.85"/>
<ellipse cx="1086.84" cy="137.27" rx="2.2" ry="3.3" transform="rotate(-32 1086.84 137.27)" fill="none" stroke="#0a0a0a" stroke-width="1.85"/>
<ellipse cx="1090.89" cy="139.57" rx="2.2" ry="3.3" transform="rotate(-32 1090.89 139.57)" fill="none" stroke="#0a0a0a" stroke-width="1.85"/>
<ellipse cx="1094.95" cy="141.88" rx="2.2" ry="3.3" transform="rotate(-32 1094.95 141.88)" fill="none" stroke="#0a0a0a" stroke-width="1.85"/>
<ellipse cx="1099.01" cy="144.18" rx="2.2" ry="3.3" transform="rotate(-32 1099.01 144.18)" fill="none" stroke="#0a0a0a" stroke-width="1.85"/>
<ellipse cx="1103.06" cy="146.48" rx="2.2" ry="3.3" transform="rotate(-32 1103.06 146.48)" fill="none" stroke="#0a0a0a" stroke-width="1.85"/>
<ellipse cx="1107.12" cy="148.78" rx="2.2" ry="3.3" transform="rotate(-32 1107.12 148.78)" fill="none" stroke="#0a0a0a" stroke-width="1.85"/>
<ellipse cx="1111.18" cy="151.09" rx="2.2" ry="3.3" transform="rotate(-32 1111.18 151.09)" fill="none" stroke="#0a0a0a" stroke-width="1.85"/>
<ellipse cx="1115.23" cy="153.39" rx="2.2" ry="3.3" transform="rotate(-32 1115.23 153.39)" fill="none" stroke="#0a0a0a" stroke-width="1.85"/>
<ellipse cx="1119.29" cy="155.69" rx="2.2" ry="3.3" transform="rotate(-32 1119.29 155.69)" fill="none" stroke="#0a0a0a" stroke-width="1.85"/>
<ellipse cx="1123.34" cy="158" rx="2.2" ry="3.3" transform="rotate(-32 1123.34 158)" fill="none" stroke="#0a0a0a" stroke-width="1.85"/>
<ellipse cx="1127.4" cy="160.3" rx="2.2" ry="3.3" transform="rotate(-32 1127.4 160.3)" fill="none" stroke="#0a0a0a" stroke-width="1.85"/>
<path d="M998 82.7 L1128.8 157" fill="none" stroke="#333" stroke-width="0.7" stroke-linejoin="round" stroke-linecap="round"/>
<path d="M995.6 89.8 L1126.2 164.3" fill="none" stroke="#333" stroke-width="0.7" stroke-linejoin="round" stroke-linecap="round"/>
<path d="M1067 208.3 L931.6 130.53 Q929.1 129.1 927.73 131.35 L920.9 143.15 Q919.9 145.4 922.4 147.43 L1057.7 225.4" fill="none" stroke="#000" stroke-width="1.5" stroke-linejoin="round" stroke-linecap="round"/>
<path d="M931.9 126.3 L1070.4 205.9" fill="none" stroke="#222" stroke-width="0.9" stroke-linejoin="round" stroke-linecap="round"/>
<path d="M919.2 149.7 L1054 227" fill="none" stroke="#222" stroke-width="0.9" stroke-linejoin="round" stroke-linecap="round"/>
<path d="M929.6 133.4 L1062.5 209.8" fill="none" stroke="#222" stroke-width="0.9" stroke-linejoin="round" stroke-linecap="round"/>
<path d="M1067.0 208.3 C1069.2 210.4 1068.0 212.8 1066.4 215.6 C1064.4 219.6 1061.6 224.8 1057.7 225.4" fill="none" stroke="#000" stroke-width="1.2" stroke-linejoin="round" stroke-linecap="round"/>
<ellipse cx="1062.8" cy="215.8" rx="2" ry="4.2" fill="none" stroke="#111" stroke-width="1.2"/>
<path d="M925.2 143.6L927.6 138.2M928.03 145.21L930.43 139.81M930.87 146.82L933.27 141.42M933.7 148.42L936.1 143.03M936.53 150.03L938.93 144.63M939.37 151.64L941.77 146.24M942.2 153.25L944.6 147.85M945.03 154.86L947.43 149.46M947.87 156.47L950.27 151.07M950.7 158.07L953.1 152.68M953.53 159.68L955.93 154.28M956.37 161.29L958.77 155.89M959.2 162.9L961.6 157.5M962.03 164.51L964.43 159.11M964.87 166.12L967.27 160.72M967.7 167.72L970.1 162.33M970.53 169.33L972.93 163.93M973.37 170.94L975.77 165.54M976.2 172.55L978.6 167.15M979.03 174.16L981.43 168.76M981.87 175.77L984.27 170.37M984.7 177.38L987.1 171.98M987.53 178.98L989.93 173.58M990.37 180.59L992.77 175.19M993.2 182.2L995.6 176.8" fill="none" stroke="#0a0a0a" stroke-width="1.9" stroke-linecap="round"/>
<path d="M1023.8 199.6L1026.2 194.2M1026.58 201.18L1028.98 195.78M1029.36 202.76L1031.76 197.36M1032.15 204.35L1034.55 198.95M1034.93 205.93L1037.33 200.53M1037.71 207.51L1040.11 202.11M1040.49 209.09L1042.89 203.69M1043.27 210.67L1045.67 205.27M1046.05 212.25L1048.45 206.85M1048.84 213.84L1051.24 208.44M1051.62 215.42L1054.02 210.02M1054.4 217L1056.8 211.6" fill="none" stroke="#0a0a0a" stroke-width="1.9" stroke-linecap="round"/>
<polygon points="993.7,178.9 1006.4,186.2 1006.4,190.6 993.7,183.4" fill="#fff" stroke="#111" stroke-width="1" stroke-linejoin="round"/>
<path d="M1007.6 184.8 L1023 193.6" fill="none" stroke="#111" stroke-width="1.6" stroke-linejoin="round" stroke-linecap="round"/>
<path d="M1006.4 184.4 L1009.6 186.2 L1009.6 190.2" fill="none" stroke="#111" stroke-width="1" stroke-linejoin="round" stroke-linecap="round"/>
<polygon points="1011.4,178.6 1013.8,180 1013.4,181.6 1011,180.2" fill="#111" stroke="#111" stroke-width="0.1" stroke-linejoin="round"/>
<polygon points="1015.2,180.78 1017.6,182.18 1017.2,183.78 1014.8,182.38" fill="#111" stroke="#111" stroke-width="0.1" stroke-linejoin="round"/>
<polygon points="1019,182.96 1021.4,184.36 1021,185.96 1018.6,184.56" fill="#111" stroke="#111" stroke-width="0.1" stroke-linejoin="round"/>
<polygon points="1022.8,185.14 1025.2,186.54 1024.8,188.14 1022.4,186.74" fill="#111" stroke="#111" stroke-width="0.1" stroke-linejoin="round"/>
<path d="M1070.3 87.3 L1070.3 99.8 A25.8 14.7 0 0 0 1121.9 99.8 L1121.9 87.3" fill="none" stroke="#000" stroke-width="1.15" stroke-linejoin="round" stroke-linecap="round"/>
<ellipse cx="1096.1" cy="87.3" rx="25.8" ry="14.7" fill="none" stroke="#000" stroke-width="2.1"/>
<line x1="1113.4" y1="78.4" x2="1113.4" y2="95.8" stroke="#000" stroke-width="1.1"/>
<path d="M1082.6 99.0 Q1094.5 103.0 1106.7 98.8" fill="none" stroke="#000" stroke-width="1.2" stroke-linejoin="round" stroke-linecap="round"/>
<path d="M1084.5 99.2 Q1094.5 96.4 1104.8 99.0" fill="none" stroke="#000" stroke-width="1" stroke-linejoin="round" stroke-linecap="round"/>
<path d="M925.8 198.6 C925.87 197.17 925.77 192.3 926.2 190 C926.63 187.7 927.33 186.17 928.4 184.8 C929.47 183.43 931.07 182.43 932.6 181.8 C934.13 181.17 935.7 180.73 937.6 181 C939.5 181.27 940.18 181.65 944 183.4 C947.82 185.15 953.55 187.95 960.5 191.5 C967.45 195.05 977.3 199.87 985.7 204.7 C994.1 209.53 1003.33 215.52 1010.9 220.5 C1018.47 225.48 1026.32 230.72 1031.1 234.6 C1035.88 238.48 1037.38 240.32 1039.6 243.8 C1041.82 247.28 1043.6 253.55 1044.4 255.5 L1044.4 311.0 C1044.4 316.4 1042.0 320.0 1037.8 321.0 L1026.0 322.0 L936.9 270.6 C930.4 266.8 926.8 260.4 925.9 254.0 Z" fill="#fff" stroke="#fff" stroke-width="0.1" stroke-linejoin="round" stroke-linecap="round"/>
<path d="M925.8 198.6 C925.87 197.17 925.77 192.3 926.2 190 C926.63 187.7 927.33 186.17 928.4 184.8 C929.47 183.43 931.07 182.43 932.6 181.8 C934.13 181.17 935.7 180.73 937.6 181 C939.5 181.27 942.93 183 944 183.4" fill="none" stroke="#000" stroke-width="1.2" stroke-linejoin="round" stroke-linecap="round"/>
<path d="M944 183.4 C946.75 184.75 953.55 187.95 960.5 191.5 C967.45 195.05 977.3 199.87 985.7 204.7 C994.1 209.53 1003.33 215.52 1010.9 220.5 C1018.47 225.48 1026.32 230.72 1031.1 234.6 C1035.88 238.48 1037.38 240.32 1039.6 243.8 C1041.82 247.28 1043.6 253.55 1044.4 255.5 L1044.4 311.0 C1044.4 316.4 1042.0 320.0 1037.8 321.0" fill="none" stroke="#000" stroke-width="1.2" stroke-linejoin="round" stroke-linecap="round"/>
<path d="M944.4 185.6 C946.97 186.85 953.05 189.67 959.8 193.1 C966.55 196.53 976.53 201.4 984.9 206.2 C993.27 211 1002.55 217 1010 221.9 C1017.45 226.8 1026.33 233.32 1029.6 235.6" fill="none" stroke="#111" stroke-width="1" stroke-linejoin="round" stroke-linecap="round"/>
<path d="M934.8 259.6 L934.8 200.2  C939.08 202.13 952.02 207.35 960.5 211.8 C968.98 216.25 977.3 221.65 985.7 226.9 C994.1 232.15 1004.45 238.95 1010.9 243.3 C1017.35 247.65 1022.15 251.38 1024.4 253 L1026.6 255.0 L1026.6 282.0" fill="none" stroke="#000" stroke-width="1.9" stroke-linejoin="round" stroke-linecap="round"/>
<path d="M934.8 259.6 L1024.6 311.0" fill="none" stroke="#000" stroke-width="1.9" stroke-linejoin="round" stroke-linecap="round"/>
<path d="M936 198.4 C940.17 200.27 952.6 205.2 961 209.6 C969.4 214 977.97 219.53 986.4 224.8 C994.83 230.07 1004.93 236.73 1011.6 241.2 C1018.27 245.67 1023.93 249.87 1026.4 251.6" fill="none" stroke="#333" stroke-width="0.9" stroke-linejoin="round" stroke-linecap="round"/>
<line x1="1028.8" y1="257" x2="1028.8" y2="281" stroke="#555" stroke-width="0.9"/>
<line x1="1042.2" y1="262" x2="1042.2" y2="308" stroke="#777" stroke-width="0.8"/>
<path d="M1024.0 244.5 L1030.0 239.4 M1031.7 259.3 L1040.2 258.9" fill="none" stroke="#444" stroke-width="0.9" stroke-linejoin="round" stroke-linecap="round"/>
<path d="M931.0 192.0 L933.4 185.8" fill="none" stroke="#444" stroke-width="0.9" stroke-linejoin="round" stroke-linecap="round"/>
<line x1="927.4" y1="198" x2="927.4" y2="254" stroke="#000" stroke-width="1.2"/>
<line x1="933.6" y1="200" x2="933.6" y2="256" stroke="#000" stroke-width="1"/>
<line x1="929.2" y1="202" x2="929.2" y2="252" stroke="#777" stroke-width="0.8"/>
<line x1="931.3" y1="202" x2="931.3" y2="252" stroke="#777" stroke-width="0.8"/>
<path d="M918.2 191.6 C918.2 189.2 920.0 188.2 922.6 188.2 C925.2 188.2 926.6 189.4 926.6 191.8" fill="none" stroke="#000" stroke-width="1.1" stroke-linejoin="round" stroke-linecap="round"/>
<ellipse cx="922.6" cy="190.6" rx="2" ry="1.1" fill="none" stroke="#333" stroke-width="0.8"/>
<path d="M918.2 191.6 L918.2 200 L925.6 207.4" fill="none" stroke="#000" stroke-width="1.1" stroke-linejoin="round" stroke-linecap="round"/>
<path d="M921.2 192.8 L921.2 198 L925.0 201.8" fill="none" stroke="#444" stroke-width="0.8" stroke-linejoin="round" stroke-linecap="round"/>
<path d="M924.2 193 L924.2 199.4" fill="none" stroke="#444" stroke-width="0.8" stroke-linejoin="round" stroke-linecap="round"/>
<path d="M918.2 238 C918.2 235.6 920.0 234.6 922.6 234.6 C925.2 234.6 926.6 235.8 926.6 238.2" fill="none" stroke="#000" stroke-width="1.1" stroke-linejoin="round" stroke-linecap="round"/>
<ellipse cx="922.6" cy="237" rx="2" ry="1.1" fill="none" stroke="#333" stroke-width="0.8"/>
<path d="M918.2 238 L918.2 246.4 L925.6 253.8" fill="none" stroke="#000" stroke-width="1.1" stroke-linejoin="round" stroke-linecap="round"/>
<path d="M921.2 239.2 L921.2 244.4 L925.0 248.2" fill="none" stroke="#444" stroke-width="0.8" stroke-linejoin="round" stroke-linecap="round"/>
<path d="M924.2 239.4 L924.2 245.8" fill="none" stroke="#444" stroke-width="0.8" stroke-linejoin="round" stroke-linecap="round"/>
<line x1="918.4" y1="200" x2="918.4" y2="237" stroke="#000" stroke-width="1"/>
<line x1="924.4" y1="207.4" x2="924.4" y2="236" stroke="#000" stroke-width="1"/>
<line x1="921.4" y1="204" x2="921.4" y2="236" stroke="#888" stroke-width="0.7"/>
<path d="M925.9 254 C926.05 255.07 926.05 258.27 926.8 260.4 C927.55 262.53 928.72 265.1 930.4 266.8 C932.08 268.5 935.82 269.97 936.9 270.6" fill="none" stroke="#000" stroke-width="1.15" stroke-linejoin="round" stroke-linecap="round"/>
<path d="M929.4 256 C929.6 256.77 929.93 259.2 930.6 260.6 C931.27 262 932.23 263.43 933.4 264.4 C934.57 265.37 936.9 266.07 937.6 266.4" fill="none" stroke="#666" stroke-width="0.8" stroke-linejoin="round" stroke-linecap="round"/>
<path d="M930.0 258.0 L932.4 263.0 M931.6 257.4 L934.0 262.0" fill="none" stroke="#777" stroke-width="0.7" stroke-linejoin="round" stroke-linecap="round"/>
<path d="M936.4 263.4 L1023.4 313.4" fill="none" stroke="#444" stroke-width="0.9" stroke-linejoin="round" stroke-linecap="round"/>
<path d="M938.3 266.6 L1021.6 314.6" fill="none" stroke="#666" stroke-width="0.9" stroke-linejoin="round" stroke-linecap="round"/>
<path d="M938.6 268.8 L1020.6 316" fill="none" stroke="#666" stroke-width="0.9" stroke-linejoin="round" stroke-linecap="round"/>
<path d="M936.9 270.6 L1026 322" fill="none" stroke="#000" stroke-width="1.2" stroke-linejoin="round" stroke-linecap="round"/>
<path d="M1021.4 313.0 C1022.4 317.0 1024.0 320.0 1026.4 322.0" fill="none" stroke="#555" stroke-width="0.9" stroke-linejoin="round" stroke-linecap="round"/>
<path d="M1030.8 283.8 L1024.8 285.8 C1022.6 286.8 1022.2 288.8 1023.6 290.8 L1034.6 302.6" fill="none" stroke="#111" stroke-width="3.8" stroke-linejoin="round" stroke-linecap="round"/>
<path d="M1030.8 283.8 L1024.8 285.8 C1022.6 286.8 1022.2 288.8 1023.6 290.8 L1034.6 302.6" fill="none" stroke="#fff" stroke-width="1.7" stroke-linejoin="round" stroke-linecap="round"/>
<path d="M1033.0 301.6 C1034.4 305.4 1036.6 308.0 1038.6 311.6 C1040.6 315.2 1041.4 318.6 1040.8 322.4 C1040.0 327.2 1036.8 329.8 1033.4 329.8 C1029.8 329.8 1026.2 326.8 1025.8 321.6 C1025.5 317.4 1027.4 313.4 1029.4 310.0 C1031.0 307.0 1032.2 304.6 1033.0 301.6 Z" fill="#151515" stroke="#111" stroke-width="0.8" stroke-linejoin="round" stroke-linecap="round"/>
<path d="M1028.0 319.6 L1038.6 318.8" fill="none" stroke="#777" stroke-width="0.6" stroke-linejoin="round" stroke-linecap="round"/>
<line x1="1039.3" y1="325.4" x2="1039.3" y2="332" stroke="#000" stroke-width="1"/>
<path d="M919.5 264.6 L898.4 270.8 C896.4 271.2 895.9 272.4 896.8 273.6 L899.0 276.4" fill="none" stroke="#000" stroke-width="1.15" stroke-linejoin="round" stroke-linecap="round"/>
<path d="M919.5 264.6 L937.8 274.8 L1056.9 343.4" fill="none" stroke="#000" stroke-width="1.15" stroke-linejoin="round" stroke-linecap="round"/>
<path d="M900.5 273.2 L1037.1 352.6" fill="none" stroke="#000" stroke-width="1" stroke-linejoin="round" stroke-linecap="round"/>
<path d="M899.8 274.4 L1036.4 353.8" fill="none" stroke="#555" stroke-width="2" stroke-linejoin="round" stroke-linecap="round"/>
<path d="M899.1 275.7 L1035.7 355.1" fill="none" stroke="#000" stroke-width="1" stroke-linejoin="round" stroke-linecap="round"/>
<path d="M1056.9 343.4 L1036.2 355.6" fill="none" stroke="#000" stroke-width="1.15" stroke-linejoin="round" stroke-linecap="round"/>
<line x1="937.8" y1="270.4" x2="937.8" y2="274.8" stroke="#000" stroke-width="1"/>
<line x1="1058.3" y1="261.6" x2="1058.3" y2="343.8" stroke="#000" stroke-width="1.1"/>
<line x1="1064" y1="259.6" x2="1064" y2="346" stroke="#000" stroke-width="1.1"/>
<path d="M1057.5 345.0 Q1060.0 348.2 1063.6 347.0 L1119.5 315.0" fill="none" stroke="#000" stroke-width="1.15" stroke-linejoin="round" stroke-linecap="round"/>
<path d="M956.1 310.2 L956.8 318.5 L957.5 319.9 L1050.5 373.8 L1063.3 376.7 L1163.5 319.2" fill="none" stroke="#000" stroke-width="1.15" stroke-linejoin="round" stroke-linecap="round"/>
<line x1="1163.5" y1="299" x2="1163.5" y2="319.2" stroke="#000" stroke-width="1.15"/>
<line x1="1050.5" y1="354.4" x2="1050.5" y2="369.6" stroke="#444" stroke-width="1.2"/>
<line x1="1063.3" y1="353" x2="1063.3" y2="371" stroke="#555" stroke-width="1.7"/>
<path d="M967.4 316.4 L967.4 322.7 L1042 366 L1042 354.4" fill="none" stroke="#000" stroke-width="1.8" stroke-linejoin="round" stroke-linecap="round"/>
<path d="M969.6 317.6 L969.6 320.6 L1040 361.2" fill="none" stroke="#000" stroke-width="1" stroke-linejoin="round" stroke-linecap="round"/>
<path d="M952.5 308.5 L925.6 323.4 L934.1 342.6 L934.8 347.6 L1035.6 405.8 L1068.4 410.1 L1199.7 335.6 L1199.7 329.9" fill="none" stroke="#000" stroke-width="1.2" stroke-linejoin="round" stroke-linecap="round"/>
<path d="M1163.8 310.4 L1199.7 329.9" fill="none" stroke="#000" stroke-width="1.15" stroke-linejoin="round" stroke-linecap="round"/>
<path d="M1034.9 400 L1035.6 405.8" fill="none" stroke="#000" stroke-width="1.6" stroke-linejoin="round" stroke-linecap="round"/>
<path d="M1067.7 404.4 L1068.4 410.1" fill="none" stroke="#000" stroke-width="1.6" stroke-linejoin="round" stroke-linecap="round"/>
<polygon points="1164,310.8 1164,319 1199.4,330" fill="#2a2a2a" stroke="#111" stroke-width="0.8" stroke-linejoin="round"/>
<path d="M1165 314 L1190 326" fill="none" stroke="#ddd" stroke-width="0.7" stroke-linejoin="round" stroke-linecap="round"/>
<path d="M1165 316.6 L1184 324.6" fill="none" stroke="#ccc" stroke-width="0.6" stroke-linejoin="round" stroke-linecap="round"/>
<path d="M940.5 345.4 L1030.6 397.6" fill="none" stroke="#666" stroke-width="1.7" stroke-linejoin="round" stroke-linecap="round"/>
<path d="M1074.1 402.3 L1194 333.4" fill="none" stroke="#666" stroke-width="1.7" stroke-linejoin="round" stroke-linecap="round"/>
<path d="M1047.6 380.2 L1039.8 394.4" fill="none" stroke="#444" stroke-width="1.3" stroke-linejoin="round" stroke-linecap="round"/>
<path d="M1064.7 383 L1068 399" fill="none" stroke="#444" stroke-width="1.4" stroke-linejoin="round" stroke-linecap="round"/>
<path d="M1042 401.6 L1060.5 404.4" fill="none" stroke="#555" stroke-width="1.8" stroke-linejoin="round" stroke-linecap="round"/>
<path d="M931.9 321.5 L948.9 316.3" fill="none" stroke="#555" stroke-width="1.3" stroke-linejoin="round" stroke-linecap="round"/>
<path d="M939.8 337.3 L954.2 326.1" fill="none" stroke="#555" stroke-width="1.3" stroke-linejoin="round" stroke-linecap="round"/>
<path d="M928 330.7 L931.9 337.3" fill="none" stroke="#555" stroke-width="1.3" stroke-linejoin="round" stroke-linecap="round"/>
<text x="992.1" y="479.2" font-size="12.3" text-anchor="start" fill="#111" textLength="145.5" lengthAdjust="spacingAndGlyphs">Surface vitrée: 153.244 po²</text>
</g>
</svg>
</body></html>
